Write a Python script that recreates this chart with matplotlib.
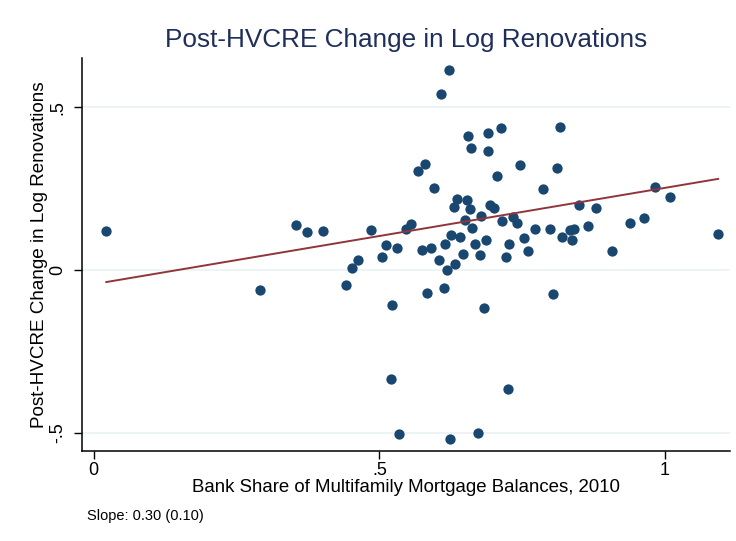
import numpy as np
import matplotlib
matplotlib.use("Agg")
import matplotlib.pyplot as plt

plt.rcParams['font.family'] = ['Liberation Sans', 'DejaVu Sans']

# Data
bank_share = [0.022, 0.291, 0.354, 0.373, 0.402, 0.441, 0.452, 0.463, 0.485, 0.505,
              0.511, 0.522, 0.521, 0.531, 0.535, 0.546, 0.555, 0.567, 0.575, 0.580,
              0.583, 0.590, 0.595, 0.604, 0.608, 0.614, 0.615, 0.619, 0.622, 0.623,
              0.625, 0.630, 0.633, 0.636, 0.642, 0.646, 0.650, 0.653, 0.655, 0.658,
              0.660, 0.663, 0.667, 0.672, 0.677, 0.678, 0.683, 0.687, 0.690, 0.690,
              0.693, 0.700, 0.706, 0.713, 0.715, 0.721, 0.726, 0.727, 0.734, 0.741,
              0.747, 0.753, 0.761, 0.772, 0.786, 0.798, 0.804, 0.811, 0.817, 0.820,
              0.834, 0.837, 0.841, 0.849, 0.865, 0.879, 0.908, 0.939, 0.963, 0.982,
              1.008, 1.093]
renov_change = [0.120, -0.060, 0.139, 0.118, 0.121, -0.046, 0.006, 0.032, 0.122, 0.040,
                0.078, -0.107, -0.335, 0.069, -0.505, 0.126, 0.140, 0.304, 0.062, 0.326,
                -0.071, 0.069, 0.253, 0.031, 0.542, -0.056, 0.081, 0.000, 0.615, -0.519,
                0.109, 0.195, 0.017, 0.218, 0.103, 0.050, 0.153, 0.214, 0.411, 0.187,
                0.376, 0.129, 0.081, -0.502, 0.046, 0.167, -0.116, 0.091, 0.421, 0.365,
                0.201, 0.191, 0.290, 0.435, 0.151, 0.040, -0.367, 0.080, 0.162, 0.144,
                0.323, 0.097, 0.059, 0.125, 0.248, 0.126, -0.073, 0.313, 0.439, 0.101,
                0.124, 0.093, 0.127, 0.201, 0.135, 0.191, 0.059, 0.145, 0.161, 0.254,
                0.225, 0.110]

# Fitted line as drawn in the reference (weighted fit; slope 0.30)
fit_slope = 0.296
fit_intercept = -0.0435

x_ticks = [0, 0.5, 1]
x_tick_labels = ['0', '.5', '1']
y_ticks = [-0.5, 0, 0.5]
y_tick_labels = ['-.5', '0', '.5']

title = 'Post-HVCRE Change in Log Renovations'
xlabel = 'Bank Share of Multifamily Mortgage Balances, 2010'
ylabel = 'Post-HVCRE Change in Log Renovations'
note = 'Slope: 0.30 (0.10)'

navy = '#1a476f'
maroon = '#90353b'

x = np.array(bank_share)
y = np.array(renov_change)
xl = np.array([x.min(), x.max()])

fig = plt.figure(figsize=(7.36, 5.41), dpi=100)
ax = fig.add_axes([0.1114, 0.1669, 0.8804, 0.7253])

for yt in y_ticks:
    ax.axhline(yt, color='#eaf2f3', lw=1.2, zorder=0)

ax.scatter(x, y, s=55, color=navy, linewidths=0, zorder=3)
ax.plot(xl, fit_intercept + fit_slope * xl, color=maroon, lw=1.4, zorder=4)

ax.set_xlim(-0.0205, 1.1138)
ax.set_ylim(-0.5553, 0.6506)

ax.set_xticks(x_ticks)
ax.set_xticklabels(x_tick_labels, fontsize=13)
ax.set_yticks(y_ticks)
ax.set_yticklabels(y_tick_labels, fontsize=13, rotation=90, va='center')
ax.tick_params(axis='both', direction='out', length=5.5, width=1, color='black')
ax.tick_params(axis='x', pad=2.5)
ax.tick_params(axis='y', pad=5.5)

for s in ['top', 'right']:
    ax.spines[s].set_visible(False)
for s in ['left', 'bottom']:
    ax.spines[s].set_linewidth(1.1)
    ax.spines[s].set_color('black')

ax.set_xlabel(xlabel, fontsize=13.4)
ax.xaxis.set_label_coords(0.5, -0.072)
ax.set_ylabel(ylabel, fontsize=13.6)
ax.yaxis.set_label_coords(-0.052, 0.5)

fig.text(0.5516, 1 - 47 / 541, title, ha='center', va='baseline',
         fontsize=18.8, color='#1f2f5c')
fig.text(87 / 736, 1 - 520 / 541, note, ha='left', va='baseline', fontsize=10.5)

fig.savefig('out.png', dpi=100, facecolor='white')
